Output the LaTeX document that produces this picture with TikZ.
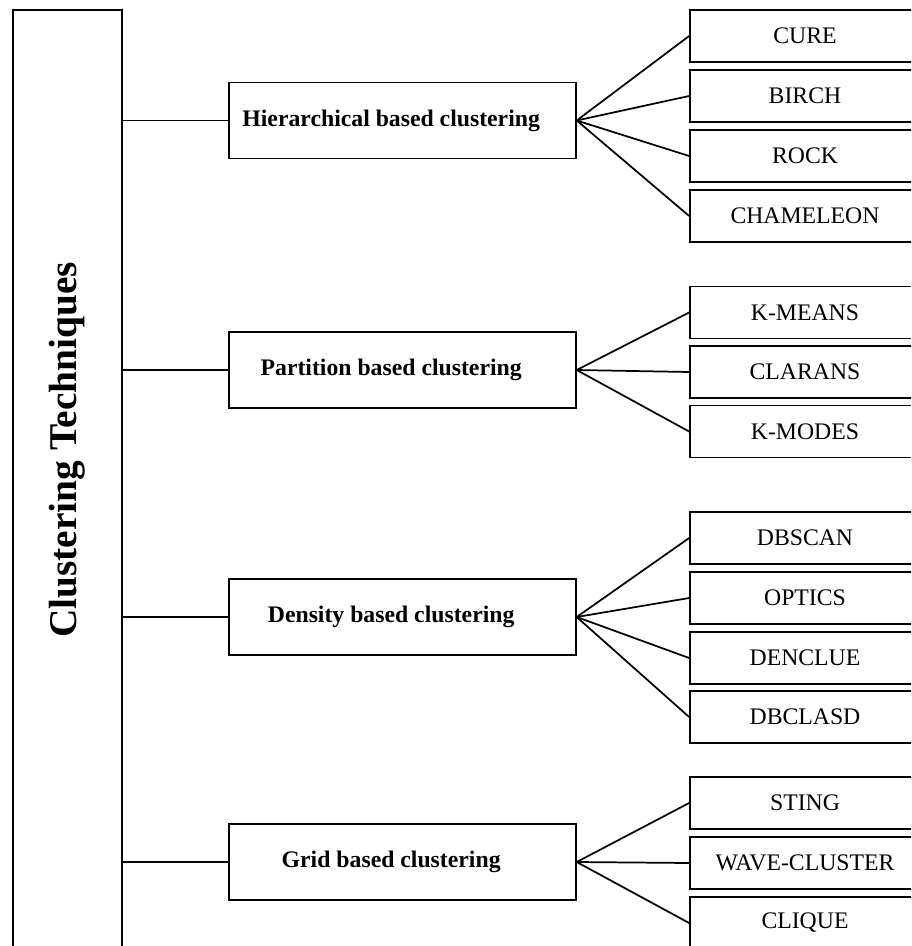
\documentclass[tikz,border=0pt]{standalone}
\usepackage{fontspec}
\setmainfont{Liberation Serif}
\begin{document}
\begin{tikzpicture}[x=0.75pt,y=-0.75pt,line width=1.3pt,
  leaf/.style={rectangle,draw=black,minimum width=172.5pt,minimum height=39pt,inner sep=0pt,font=\fontsize{17.8}{20}\selectfont},
  group/.style={rectangle,draw=black,minimum width=260pt,minimum height=57pt,inner sep=0pt,font=\bfseries\fontsize{17.8}{20}\selectfont,execute at end node=\hspace*{17pt}}]
\useasboundingbox (0,0) rectangle (911,946);
\clip (0,0) rectangle (911,946);
\node[rectangle,draw=black,minimum width=81.75pt,minimum height=742.5pt] (root) at (67.5,505) {};
\node[rotate=90,font=\bfseries\fontsize{29.5}{32}\selectfont] (title) at (67,450) {Clustering Techniques};
% hierarchical
\node[group] (hier) at (402.5,120.5) {Hierarchical based clustering};
\draw (root.east |- hier.west)--(hier.west);
\node[leaf] (cure) at (805,36) {CURE};
\node[leaf] (birch) at (805,96) {BIRCH};
\node[leaf] (rock) at (805,156) {ROCK};
\node[leaf] (chameleon) at (805,216) {CHAMELEON};
\draw (hier.east)--(cure.west);
\draw (hier.east)--(birch.west);
\draw (hier.east)--(rock.west);
\draw (hier.east)--(chameleon.west);
% partition
\node[group] (part) at (402.5,370) {Partition based clustering};
\draw (root.east |- part.west)--(part.west);
\node[leaf] (kmeans) at (805,312.5) {K-MEANS};
\node[leaf] (clarans) at (805,372) {CLARANS};
\node[leaf] (kmodes) at (805,431.5) {K-MODES};
\draw (part.east)--(kmeans.west);
\draw (part.east)--(clarans.west);
\draw (part.east)--(kmodes.west);
% density
\node[group] (dens) at (402.5,617) {Density based clustering};
\draw (root.east |- dens.west)--(dens.west);
\node[leaf] (dbscan) at (805,538) {DBSCAN};
\node[leaf] (optics) at (805,598) {OPTICS};
\node[leaf] (denclue) at (805,658) {DENCLUE};
\node[leaf] (dbclasd) at (805,717) {DBCLASD};
\draw (dens.east)--(dbscan.west);
\draw (dens.east)--(optics.west);
\draw (dens.east)--(denclue.west);
\draw (dens.east)--(dbclasd.west);
% grid
\node[group] (grid) at (402.5,862) {Grid based clustering};
\draw (root.east |- grid.west)--(grid.west);
\node[leaf] (sting) at (805,803) {STING};
\node[leaf] (wave) at (805,863) {WAVE-CLUSTER};
\node[leaf] (clique) at (805,923) {CLIQUE};
\draw (grid.east)--(sting.west);
\draw (grid.east)--(wave.west);
\draw (grid.east)--(clique.west);
\end{tikzpicture}
\end{document}
